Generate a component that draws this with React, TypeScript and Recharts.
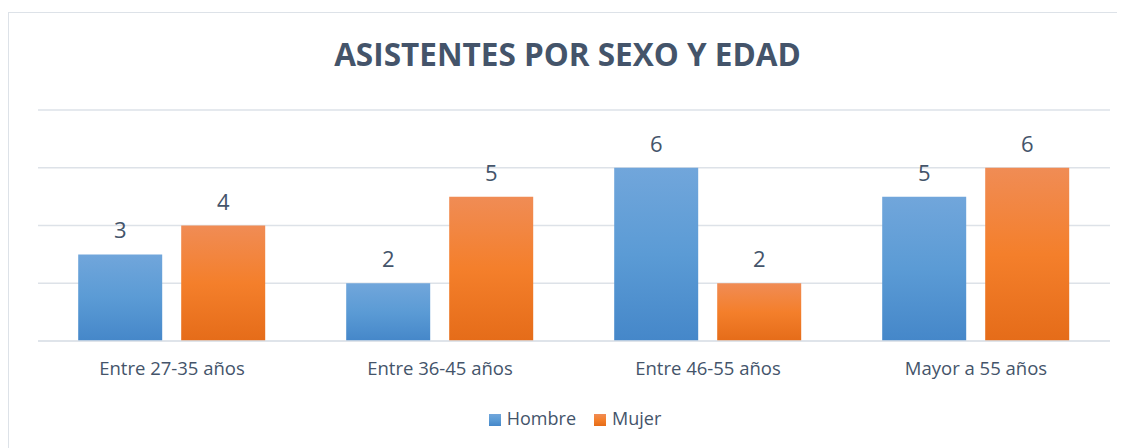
import {
  Bar,
  BarChart,
  CartesianGrid,
  LabelList,
  Legend,
  XAxis,
  YAxis,
} from "recharts";

const ageGroups = [
  "Entre 27-35 años",
  "Entre 36-45 años",
  "Entre 46-55 años",
  "Mayor a 55 años",
];
const hombre = [3, 2, 6, 5];
const mujer = [4, 5, 2, 6];
const yTicks = [0, 2, 4, 6, 8];

const data = ageGroups.map((group, i) => ({
  group,
  Hombre: hombre[i],
  Mujer: mujer[i],
}));

const textColor = "#44546a";
const gridColor = "#dde2e8";
const font = "'Open Sans', sans-serif";

export default function App() {
  return (
    <div
      style={{
        position: "relative",
        marginTop: 4,
        width: 1117,
        height: 436,
        borderTop: `1px solid ${gridColor}`,
        borderLeft: `1px solid ${gridColor}`,
        boxSizing: "border-box",
        fontFamily: font,
      }}
    >
      <div
        style={{
          position: "absolute",
          top: 19,
          left: 0,
          width: 1117,
          textAlign: "center",
          fontSize: 31.5,
          fontWeight: 700,
          color: textColor,
        }}
      >
        ASISTENTES POR SEXO Y EDAD
      </div>
      <BarChart
        width={1116}
        height={435}
        data={data}
        margin={{ top: 97, right: 15, left: 29, bottom: 33 }}
        barGap={19}
        barCategoryGap="15%"
        style={{ position: "absolute", top: 0, left: 0 }}
      >
        <defs>
          <linearGradient id="gradBlue" x1="0" y1="0" x2="0" y2="1">
            <stop offset="0%" stopColor="#71a6db" />
            <stop offset="50%" stopColor="#5b9bd5" />
            <stop offset="100%" stopColor="#4587c9" />
          </linearGradient>
          <linearGradient id="gradOrange" x1="0" y1="0" x2="0" y2="1">
            <stop offset="0%" stopColor="#f08c55" />
            <stop offset="50%" stopColor="#f47f2b" />
            <stop offset="100%" stopColor="#e56c19" />
          </linearGradient>
        </defs>
        <CartesianGrid vertical={false} stroke={gridColor} strokeWidth={1.5} />
        <XAxis
          dataKey="group"
          height={50}
          tickLine={false}
          axisLine={{ stroke: gridColor, strokeWidth: 1.5 }}
          tick={{ fill: textColor, fontSize: 18.5, fontFamily: font }}
          tickMargin={15}
        />
        <YAxis hide domain={[0, 8]} ticks={yTicks} />
        <Legend
          iconType="square"
          iconSize={12}
          wrapperStyle={{
            fontSize: 18,
            fontFamily: font,
            color: textColor,
            bottom: 18,
            paddingLeft: 10,
          }}
          formatter={(value) => (
            <span style={{ color: textColor, marginLeft: 2, marginRight: 8 }}>
              {value}
            </span>
          )}
        />
        <Bar dataKey="Hombre" fill="url(#gradBlue)" isAnimationActive={false}>
          <LabelList
            dataKey="Hombre"
            position="top"
            offset={16}
            fill={textColor}
            fontSize={22}
            fontFamily={font}
          />
        </Bar>
        <Bar dataKey="Mujer" fill="url(#gradOrange)" isAnimationActive={false}>
          <LabelList
            dataKey="Mujer"
            position="top"
            offset={16}
            fill={textColor}
            fontSize={22}
            fontFamily={font}
          />
        </Bar>
      </BarChart>
    </div>
  );
}
